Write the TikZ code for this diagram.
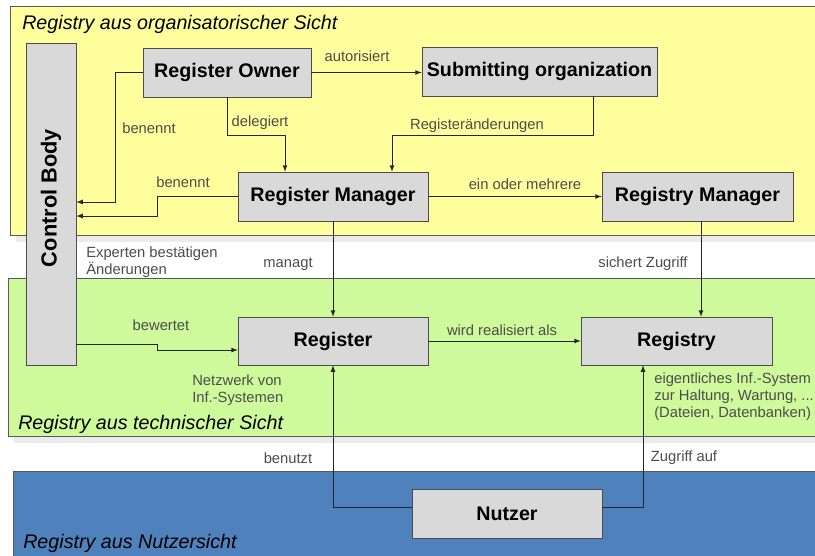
\documentclass[tikz,border=0pt]{standalone}
\usepackage{fontspec}
\setmainfont{Liberation Sans}
\usetikzlibrary{arrows}
\definecolor{orgyellow}{RGB}{255,255,158}
\definecolor{techgreen}{RGB}{206,250,156}
\definecolor{userblue}{RGB}{79,129,189}
\newcommand{\px}{0.025cm}

\begin{document}
\begin{tikzpicture}[x=\px,y=-\px]
	\tikzset{>=latex}
  \tikzset{box/.style={draw=black!70,fill=black!15,inner sep=0,font=\fontsize{14}{16}\selectfont\bfseries},
    lbl/.style={inner sep=0,text=black!70,font=\fontsize{10.5}{12}\selectfont},
    ttl/.style={inner sep=0,anchor=west,font=\fontsize{14}{16}\selectfont\itshape},
    arr/.style={->,draw=black!85,line width=0.6pt}}
  \useasboundingbox (0,0) rectangle (815,555);

  \fill[black!8] (16,12) rectangle (820,242);
  \draw[black!65,fill=orgyellow] (10,6) rectangle (820,235);
  \fill[black!8] (14,284) rectangle (820,443);
  \draw[black!65,fill=techgreen] (8,278) rectangle (820,436);
  \draw[black!65,fill=userblue] (13,471) rectangle (820,560);

  \node[ttl] (orgtitle) at (22,24) {Registry aus organisatorischer Sicht};
  \node[ttl] (techtitle) at (18,424) {Registry aus technischer Sicht};
  \node[ttl] (usertitle) at (23,543) {Registry aus Nutzersicht};

  \node[box,minimum width=50*\px,minimum height=322*\px] (control) at (51,204) {};
  \node[rotate=90,inner sep=0,font=\fontsize{15.5}{17}\selectfont\bfseries] (controltext) at (51,198) {Control Body};
  \node[box,minimum width=168*\px,minimum height=49*\px] (owner) at (227,72.5) {Register Owner};
  \node[box,minimum width=235*\px,minimum height=49*\px] (subm) at (539.5,71.5) {Submitting organization};
  \node[box,minimum width=190*\px,minimum height=49*\px] (rman) at (333,196.5) {Register Manager};
  \node[box,minimum width=191*\px,minimum height=49*\px] (ryman) at (697.5,196.5) {Registry Manager};
  \node[box,minimum width=190*\px,minimum height=48*\px] (reg) at (333,341) {Register};
  \node[box,minimum width=191*\px,minimum height=48*\px] (ry) at (676.5,341) {Registry};
  \node[box,minimum width=190*\px,minimum height=49*\px] (nutzer) at (507,513.5) {Nutzer};

  \draw[arr] (owner.west) -| (115,202) -- (control.east |- 0,202);
  \draw[arr] (rman.west) -- (157,196.5) |- (control.east |- 0,216);
  \draw[arr] (owner.south) |- (285,135) -- (rman.north -| 285,0);
  \draw[arr] (owner.east) -- (subm.west |- owner.east);
  \draw[arr] (subm.south -| 593,0) |- (392,135) -- (rman.north -| 392,0);
  \draw[arr] (rman) -- (ryman);
  \draw[arr] (rman) -- (reg);
  \draw[arr] (ryman.south -| 701,0) -- (ry.north -| 701,0);
  \draw[arr] (control.east |- 0,344) -- (157,344) -- (157,350) -- (reg.west |- 0,350);
  \draw[arr] (reg) -- (ry);
  \draw[arr] (nutzer.west |- 0,507) -| (reg.south);
  \draw[arr] (nutzer.east |- 0,507) -| (ry.south -| 643,0);

  \node[lbl] (benennta) at (149,128) {benennt};
  \node[lbl] (benenntb) at (183,182) {benennt};
  \node[lbl] (delegiert) at (260,123) {delegiert};
  \node[lbl] (autorisiert) at (357,56) {autorisiert};
  \node[lbl] (aenderungen) at (477,126) {Registeränderungen};
  \node[lbl] (mehrere) at (525,184) {ein oder mehrere};
  \node[lbl] (managt) at (288,264) {managt};
  \node[lbl] (sichert) at (643,264) {sichert Zugriff};
  \node[lbl] (bewertet) at (161,325) {bewertet};
  \node[lbl] (realisiert) at (502,330) {wird realisiert als};
  \node[lbl] (benutzt) at (288,458) {benutzt};
  \node[lbl] (zugriff) at (684,458) {Zugriff auf};
  \node[lbl,anchor=west,align=left] (experten) at (86,262) {Experten bestätigen\\Änderungen};
  \node[lbl,anchor=west,align=left] (netzwerk) at (192,390) {Netzwerk von\\Inf.-Systemen};
  \node[lbl,anchor=west,align=left] (infsystem) at (654,397) {eigentliches Inf.-System\\zur Haltung, Wartung, ...\\(Dateien, Datenbanken)};

\end{tikzpicture}
\end{document}
